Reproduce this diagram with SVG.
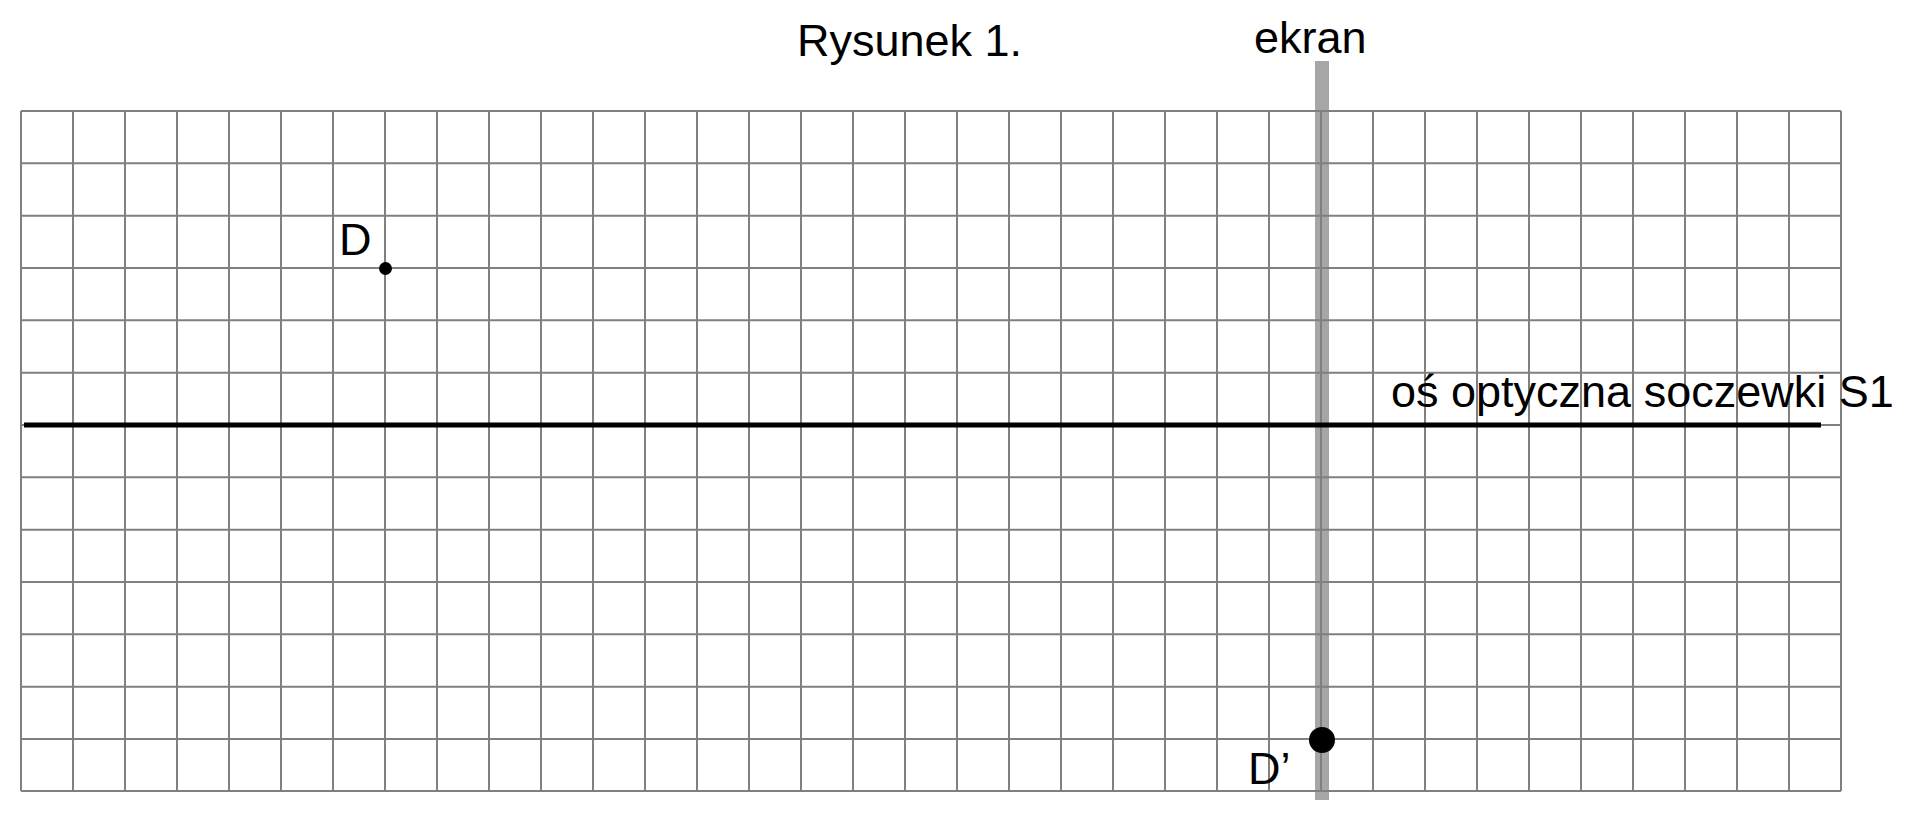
<svg xmlns="http://www.w3.org/2000/svg" width="1913" height="821" viewBox="0 0 1913 821">
<style>
.t{font-family:"Liberation Sans",Arial,sans-serif;font-size:45px;fill:#000}
.grid{stroke:#808080;stroke-width:2;fill:none}
</style>
<rect width="1913" height="821" fill="#fff"/>
<g id="ekran-screen"><rect x="1315" y="61" width="14" height="739" fill="#a6a6a6"/></g>
<g id="grid">
<path class="grid" d="M21 111V791M73 111V791M125 111V791M177 111V791M229 111V791M281 111V791M333 111V791M385 111V791M437 111V791M489 111V791M541 111V791M593 111V791M645 111V791M697 111V791M749 111V791M801 111V791M853 111V791M905 111V791M957 111V791M1009 111V791M1061 111V791M1113 111V791M1165 111V791M1217 111V791M1269 111V791M1321 111V791M1373 111V791M1425 111V791M1477 111V791M1529 111V791M1581 111V791M1633 111V791M1685 111V791M1737 111V791M1789 111V791M1841 111V791"/>
<path class="grid" d="M21 111H1841M21 163.33H1841M21 215.67H1841M21 268H1841M21 320.33H1841M21 372.67H1841M21 425H1841M21 477.33H1841M21 529.67H1841M21 582H1841M21 634.33H1841M21 686.67H1841M21 739H1841M21 791H1841"/>
</g>
<g id="axis"><line x1="24" y1="425" x2="1821" y2="425" stroke="#000" stroke-width="5"/></g>
<g id="D"><circle cx="385.5" cy="268.5" r="6.5" fill="#000"/><text class="t" x="339" y="255">D</text></g>
<g id="D-prime"><circle cx="1322" cy="740" r="13" fill="#000"/><text class="t" x="1248" y="784">D’</text></g>
<g id="labels">
<text class="t" x="797" y="56">Rysunek 1.</text>
<text class="t" x="1254" y="53">ekran</text>
<text class="t" x="1391" y="407">oś optyczna soczewki S1</text>
</g>
</svg>
